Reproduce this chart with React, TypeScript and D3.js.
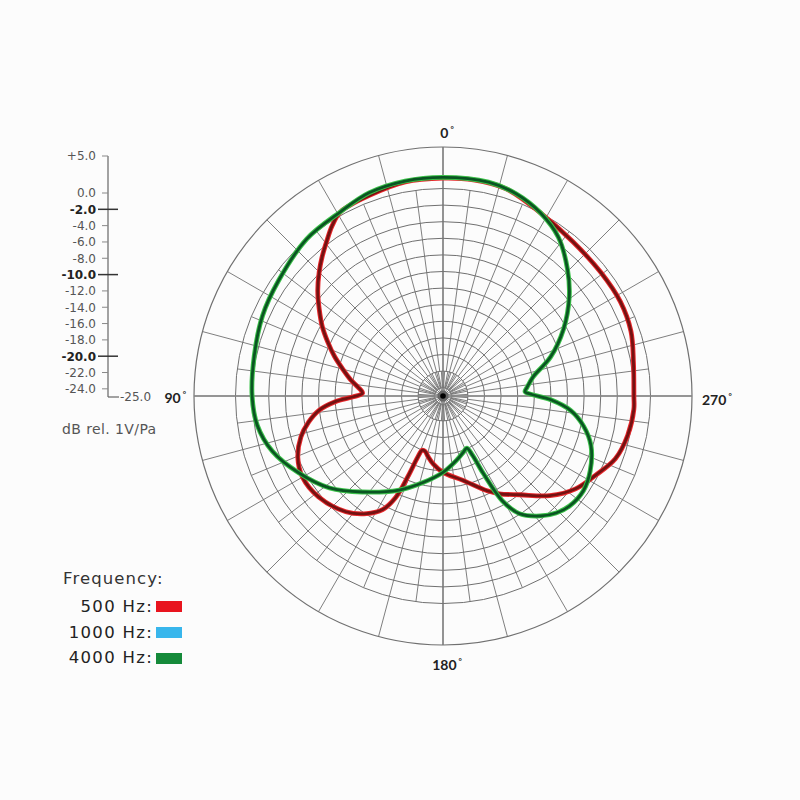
import React from "react";
import * as d3 from "d3";

// ---- data (angle in degrees, counter-clockwise from 0° at top; level in dB) ----
const angles500 = [0, 10, 20, 29, 33, 37, 41, 45, 50, 55, 60, 65, 70, 75, 80, 84, 88, 90.5, 93, 96.5, 101, 106, 113, 120, 129, 140, 147, 152, 155, 156.5, 157.5, 159, 162, 166, 172, 180, 193, 205, 210, 218, 227, 235, 242.5, 250, 258, 266, 270, 280, 289, 298, 308, 320, 332, 343, 352];
const db500 = [1.25, 1.2, 0.75, 0.4, -0.5, -1.7, -2.8, -3.9, -5.3, -6.8, -8.2, -9.7, -11.1, -12.5, -13.7, -14.7, -15.3, -14.2, -12.0, -10.0, -8.5, -7.2, -6.0, -5.45, -5.7, -6.8, -8.1, -9.5, -11.5, -14.5, -17.0, -18.0, -18.0, -17.5, -16.7, -15.8, -14.6, -12.4, -11.4, -9.9, -7.4, -5.5, -4.3, -2.9, -2.25, -1.95, -2.0, -1.7, -1.05, -0.8, -0.85, -0.7, 0.0, 1.1, 1.3];

const angles4000 = [0, 10, 20, 29, 41, 55, 66, 78, 90, 99, 108, 118, 129, 140, 155, 167, 180, 192, 200, 204.5, 206.5, 207.5, 209.5, 213, 219, 224, 229, 236, 243, 251.5, 258, 263.5, 268, 271, 273, 276, 282, 290, 299, 308, 315.5, 324, 332, 340, 348];
const db4000 = [1.35, 1.3, 1.05, 0.4, 0.05, -0.8, -1.2, -1.75, -2.0, -2.35, -3.4, -5.3, -7.4, -9.9, -12.5, -14.3, -15.8, -17.1, -17.8, -18.1, -17.0, -14.5, -10.5, -8.1, -6.4, -5.4, -4.8, -4.6, -5.1, -6.2, -7.7, -9.5, -12.0, -14.3, -15.1, -14.8, -13.9, -11.2, -8.4, -5.7, -3.6, -1.35, 0.0, 0.9, 1.35];

const scaleLabels = [5, 0, -2, -4, -6, -8, -10, -12, -14, -16, -18, -20, -22, -24];
const boldLabels = [-2, -10, -20];
const ringLevels = [5, 0, -2, -4, -6, -8, -10, -12, -14, -16, -18, -20, -22, -24];
const angleLabels = ["0", "90", "180", "270"];
const legendNames = ["500 Hz:", "1000 Hz:", "4000 Hz:"];
const legendColors = ["#e8141e", "#38b6ec", "#158a3a"];

const CX = 443;
const CY = 396;
const SANS = "'DejaVu Sans', Verdana, sans-serif";

export default function App() {
  const r = d3.scaleLinear().domain([-25, 5]).range([0, 249]);
  const yAxis = d3.scaleLinear().domain([-25, 0, 5]).range([397, 193, 156]);

  const line = d3
    .lineRadial<[number, number]>()
    .angle((d) => (-d[0] * Math.PI) / 180)
    .radius((d) => r(d[1]))
    .curve(d3.curveCatmullRomClosed.alpha(0.5));

  const d500 = line(angles500.map((a, i) => [a, db500[i]]))!;
  const d4000 = line(angles4000.map((a, i) => [a, db4000[i]]))!;

  const spokes: { a: number; r0: number; r1: number }[] = [];
  for (let a = 0; a < 360; a += 15) spokes.push({ a, r0: 0, r1: r(5) });
  for (let a = 7.5; a < 360; a += 15) spokes.push({ a, r0: r(-22), r1: r(0) });
  for (let a = 3.75; a < 360; a += 7.5) spokes.push({ a, r0: r(-24), r1: r(-22) });

  const pt = (a: number, rad: number) => [
    CX - rad * Math.sin((a * Math.PI) / 180),
    CY - rad * Math.cos((a * Math.PI) / 180),
  ];

  const labelPos = [
    { x: 447, y: 138, anchor: "middle" },
    { x: 186, y: 403, anchor: "end" },
    { x: 447, y: 670, anchor: "middle" },
    { x: 702, y: 405, anchor: "start" },
  ];

  return (
    <svg
      width={800}
      height={800}
      style={{ position: "absolute", left: 0, top: 0, background: "#fff" }}
      fontFamily="Lato, 'DejaVu Sans', sans-serif"
    >
      <rect width={800} height={800} fill="#fcfcfc" />
      {/* polar grid */}
      <g stroke="#707070" fill="none" strokeWidth={1}>
        {ringLevels.map((v) => (
          <circle key={v} cx={CX} cy={CY} r={r(v)} strokeWidth={v === 5 ? 1.2 : 1} />
        ))}
        {spokes.map((s, i) => {
          const [x0, y0] = pt(s.a, s.r0);
          const [x1, y1] = pt(s.a, s.r1);
          return <line key={i} x1={x0} y1={y0} x2={x1} y2={y1} strokeWidth={0.9} />;
        })}
      </g>
      <line x1={CX - r(5)} x2={CX + r(5)} y1={CY} y2={CY} stroke="#888" strokeWidth={1.4} />
      <line x1={CX} x2={CX} y1={CY - r(5)} y2={CY + r(5)} stroke="#777" strokeWidth={1.2} />
      <circle cx={CX} cy={CY} r={5.5} fill="#666" />
      <circle cx={CX} cy={CY} r={2.8} fill="#000" />

      {/* curves */}
      <g transform={`translate(${CX},${CY})`} fill="none" strokeLinejoin="round">
        <path d={d500} stroke="#e8262a" strokeWidth={4.8} />
        <path d={d500} stroke="#741212" strokeWidth={2.8} />
        <path d={d4000} stroke="#3cc24a" strokeWidth={4.8} />
        <path d={d4000} stroke="#0a5522" strokeWidth={2.8} />
      </g>

      {/* angle labels */}
      {angleLabels.map((t, i) => (
        <text
          key={t}
          x={labelPos[i].x}
          y={labelPos[i].y}
          textAnchor={labelPos[i].anchor as any}
          fontSize={14}
          fontWeight={700}
          fill="#222"
        >
          {t}
          <tspan fontSize={8} dy={-6} dx={2}>°</tspan>
        </text>
      ))}

      {/* dB scale */}
      <g fontFamily={SANS}>
        <line x1={108} x2={108} y1={yAxis(5)} y2={yAxis(-25)} stroke="#666" strokeWidth={1.2} />
        <line x1={108} x2={119} y1={yAxis(-25)} y2={yAxis(-25)} stroke="#666" strokeWidth={1.2} />
        {scaleLabels.map((v) => {
          const bold = boldLabels.includes(v);
          const y = yAxis(v);
          return (
            <g key={v}>
              <line
                x1={bold ? 98 : 102}
                x2={bold ? 118 : 108}
                y1={y}
                y2={y}
                stroke={bold ? "#333" : "#888"}
                strokeWidth={bold ? 1.5 : 1}
              />
              <text
                x={96}
                y={y}
                dy="0.36em"
                textAnchor="end"
                fontSize={12}
                fontWeight={bold ? 700 : 400}
                fill={bold ? "#222" : "#555"}
              >
                {v > 0 ? `+${v.toFixed(1)}` : v.toFixed(1)}
              </text>
            </g>
          );
        })}
        <text x={120} y={yAxis(-25)} dy="0.36em" fontSize={12} fill="#555">
          -25.0
        </text>
        <text x={62} y={434} fontSize={14} letterSpacing={0.4} fill="#555">
          dB rel. 1V/Pa
        </text>
      </g>

      {/* legend */}
      <g fontFamily={SANS}>
        <text x={63} y={584} fontSize={16.5} letterSpacing={1.1} fill="#333">
          Frequency:
        </text>
        {legendNames.map((n, i) => (
          <g key={n}>
            <text x={153} y={612 + i * 25.5} textAnchor="end" fontSize={16.5} letterSpacing={1.3} fill="#222">
              {n}
            </text>
            <rect x={156} y={601 + i * 26} width={26} height={11} fill={legendColors[i]} />
          </g>
        ))}
      </g>
    </svg>
  );
}
